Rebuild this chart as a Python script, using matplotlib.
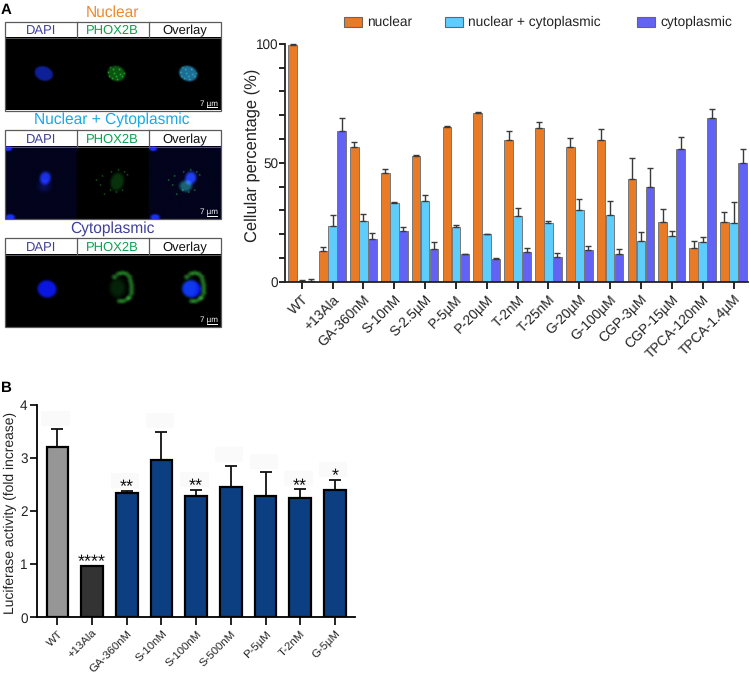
"""Two panel figure: PHOX2B localisation and luciferase activity"""

import numpy as np
import matplotlib

matplotlib.use("Agg")
import matplotlib.pyplot as plt
from matplotlib.patches import Rectangle
from matplotlib.ticker import MultipleLocator

plt.rcParams["font.family"] = ["Liberation Sans", "DejaVu Sans"]
plt.rcParams["text.hinting"] = "no_hinting"

W, H = 750, 677

# panel A
treatments_a = [
    "WT", "+13Ala", "GA-360nM", "S-10nM", "S-2.5µM", "P-5µM", "P-20µM", "T-2nM",
    "T-25nM", "G-20µM", "G-100µM", "CGP-3µM", "CGP-15µM", "TPCA-120nM", "TPCA-1.4µM",
]
nuclear = [99.3, 12.9, 56.4, 45.7, 52.8, 64.8, 70.7, 59.4, 64.7, 56.6, 59.7, 43.0, 25.0, 14.3, 25.0]
nuclear_top = [100, 14.4, 58.5, 47.5, 53.4, 65.5, 71.4, 63.2, 67.1, 60.4, 64.3, 51.8, 30.7, 17.0, 29.1]
both = [0.3, 23.5, 25.6, 33.0, 33.8, 23.1, 19.9, 27.7, 24.8, 30.0, 28.2, 17.0, 19.0, 16.8, 24.6]
both_top = [0.7, 27.9, 28.3, 33.3, 36.3, 24.0, 20.0, 31.1, 25.6, 34.9, 33.9, 20.7, 21.1, 18.9, 33.5]
cyto = [0.4, 63.3, 17.8, 21.1, 13.6, 11.8, 9.5, 12.6, 10.4, 13.2, 11.6, 39.8, 55.6, 68.8, 49.7]
cyto_top = [1.0, 68.9, 20.3, 23.1, 16.5, 11.8, 9.8, 14.1, 11.9, 14.8, 13.9, 47.9, 60.9, 72.7, 55.6]

# panel B
treatments_b = [
    "WT", "+13Ala", "GA-360nM", "S-10nM", "S-100nM", "S-500nM", "P-5µM", "T-2nM", "G-5µM",
]
luciferase = [3.21, 0.97, 2.35, 2.96, 2.28, 2.45, 2.28, 2.24, 2.40]
luciferase_top = [3.55, 0.97, 2.38, 3.50, 2.40, 2.86, 2.73, 2.41, 2.59]
stars = ["", "****", "**", "", "**", "", "", "**", "*"]
bar_colors_b = ["#969696", "#333333"] + ["#0b3f82"] * 7


def px_axes(left, top, right, bottom, **kwargs):
    """Axes placed by pixel box, y measured from the top of the figure"""
    return fig.add_axes(
        [left / W, 1 - bottom / H, (right - left) / W, (bottom - top) / H], **kwargs
    )


def pt(px):
    return px * 0.72


fig = plt.figure(figsize=(W / 100, H / 100), dpi=100)

# ---- micrograph panels, drawn in a pixel coordinate layer
canvas = px_axes(0, 0, W, H)
canvas.set_xlim(0, W)
canvas.set_ylim(H, 0)
canvas.axis("off")

EDGE = "#5a5a5a"
LEFT, RIGHT = 5, 220.5
COLS = [(5, 76.5), (76.5, 148.5), (148.5, 220.5)]
HEAD_H, IMG_H = 16.5, 72.5
SCALE = 3  # raster pixels per figure pixel in the micrographs


def blob(img, top, x, y, rx, ry, rgb, angle=0, soft=0.25):
    """Add a soft edged ellipse to a row image, position in figure pixels"""
    yy, xx = np.mgrid[0:img.shape[0], 0:img.shape[1]]
    xx = xx / SCALE + LEFT - x
    yy = yy / SCALE + top + HEAD_H - y
    a = np.deg2rad(angle)
    u = (xx * np.cos(a) + yy * np.sin(a)) / rx
    v = (-xx * np.sin(a) + yy * np.cos(a)) / ry
    mask = np.clip((1 - np.hypot(u, v)) / soft, 0, 1)
    img += mask[..., None] * np.array(rgb) / 255


def new_row():
    return np.zeros((int(IMG_H * SCALE), int((RIGHT - LEFT) * SCALE), 3))


def panel(title, title_color, title_y, top, img):
    canvas.text(112, title_y, title, color=title_color, fontsize=pt(15.5),
                ha="center", va="center")
    canvas.imshow(np.clip(img, 0, 1), extent=(LEFT, RIGHT, top + HEAD_H + IMG_H, top + HEAD_H),
                  interpolation="bilinear", aspect="auto", zorder=1)
    canvas.add_patch(Rectangle((LEFT, top), RIGHT - LEFT, HEAD_H + IMG_H, fc="none", ec=EDGE, lw=0.9, zorder=3))
    canvas.plot([LEFT, RIGHT], [top + HEAD_H] * 2, color=EDGE, lw=0.7, zorder=3)
    for x in (76.5, 148.5):
        canvas.plot([x, x], [top, top + HEAD_H], color=EDGE, lw=0.9, zorder=3)
    for (a, b), label, color in zip(COLS, ["DAPI", "PHOX2B", "Overlay"],
                                    ["#41409a", "#12a04f", "#111111"]):
        canvas.text((a + b) / 2, top + 12.8, label, color=color, fontsize=pt(13),
                    ha="center", va="baseline")
    # scale bar
    canvas.text(208.5, top + 84.5, "7 µm", color="white", fontsize=pt(8),
                ha="center", va="baseline", zorder=4)
    canvas.plot([207, 217], [top + 85.5] * 2, color="white", lw=0.7, zorder=4)


# first row
top = 21.5
row = new_row()
blob(row, top, 43.5, 74, 10.5, 8, (14, 32, 150), angle=20)
blob(row, top, 116, 74, 10, 8.5, (12, 85, 18), angle=20)
blob(row, top, 187.5, 74, 10.5, 8.5, (30, 110, 150), angle=20)
specks_1 = [(110, 68), (114, 74), (119, 70), (122, 77), (112, 79), (117, 80), (108, 73),
            (120, 75), (113, 70), (116, 77), (124, 74), (109, 77)]
for x, y in specks_1:
    blob(row, top, x, y, 1.2, 1.2, (30, 120, 35), soft=0.8)
    blob(row, top, x + 72, y, 1.2, 1.2, (20, 80, 50), soft=0.8)
panel("Nuclear", "#ef8a2e", 12.7, top, row)

# second row
top = 130
row = new_row()
row[:, : int(71.5 * SCALE)] += np.array((2, 3, 28)) / 255
row[:, int(143.5 * SCALE) :] += np.array((2, 3, 28)) / 255
for x0 in (8, 152.5):
    blob(row, top, x0, 149, 5, 3, (25, 45, 220), soft=0.5)
    blob(row, top, x0 + 2, 217, 6, 4, (25, 45, 220), soft=0.5)
blob(row, top, 44, 186, 9, 8, (6, 12, 60), soft=0.8)
blob(row, top, 45, 178, 7, 8, (25, 45, 200), angle=15, soft=0.5)
blob(row, top, 116.7, 181.7, 8, 11, (8, 50, 12), angle=15, soft=0.4)
blob(row, top, 185, 186, 8, 7, (25, 95, 90), soft=0.5)
blob(row, top, 190, 178, 7, 8, (30, 60, 215), angle=15, soft=0.5)
spots_2 = [(100, 185), (104, 194), (111, 172), (124, 172), (127, 175), (102, 176), (110, 190),
           (122, 190), (118, 170), (116, 192), (96, 180)]
for x, y in spots_2:
    blob(row, top, x, y, 1, 1, (30, 150, 45), soft=0.8)
    blob(row, top, x + 72, y, 1, 1, (35, 180, 55), soft=0.8)
panel("Nuclear + Cytoplasmic", "#19a9e6", 120, top, row)

# third row
top = 238
row = new_row()
blob(row, top, 46.7, 289, 11, 10, (10, 22, 225), angle=10, soft=0.3)
blob(row, top, 117, 288, 10, 12, (5, 35, 8), soft=0.5)
crescent = [(114, 277), (118, 274), (122, 273), (126, 274), (129, 277), (130, 281), (131, 285),
            (131, 289), (131, 293), (129, 297), (127, 299), (123, 301), (119, 301)]
for x, y in crescent:
    blob(row, top, x, y, 4.2, 3.6, (34, 120, 38), soft=1.0)
    blob(row, top, x + 72, y, 4.2, 3.6, (36, 125, 40), soft=1.0)
blob(row, top, 189, 288, 10, 12, (5, 35, 8), soft=0.5)
blob(row, top, 190.7, 289, 11, 10, (10, 22, 230), angle=10, soft=0.3)
panel("Cytoplasmic", "#41409a", 228.7, top, row)
canvas.set_xlim(0, W)
canvas.set_ylim(H, 0)

# ---- panel letters
canvas.text(1, 10, "A", fontsize=pt(15), fontweight="bold", va="center")
canvas.text(1, 388, "B", fontsize=pt(15), fontweight="bold", va="center")

# ---- panel A bars
ax_a = px_axes(285, 43.7, 748, 281.7)
x_a = np.arange(len(treatments_a))
offset = 0.292
bar_w = 0.28
series = [
    (nuclear, nuclear_top, "#e97a26", "nuclear", -offset),
    (both, both_top, "#5fcdfb", "nuclear + cytoplasmic", 0),
    (cyto, cyto_top, "#6262f5", "cytoplasmic", offset),
]
for vals, tops, color, label, shift in series:
    vals = np.array(vals)
    ax_a.bar(x_a + shift, vals, bar_w, color=color, edgecolor="#777777", linewidth=0.7)
    ax_a.errorbar(
        x_a + shift, vals, yerr=[np.zeros(len(vals)), np.array(tops) - vals], fmt="none",
        ecolor="#3a3a3a", elinewidth=1.0, capsize=1.9, capthick=1.0, clip_on=False,
    )
ax_a.set_xlim(-0.54, 14.47)
ax_a.set_ylim(0, 100)
ax_a.set_xticks(x_a, treatments_a, rotation=45, ha="right", rotation_mode="anchor",
                fontsize=pt(13.7), color="#222222")
ax_a.set_yticks([0, 50, 100])
ax_a.yaxis.set_minor_locator(MultipleLocator(10))
ax_a.tick_params(axis="y", which="major", labelsize=pt(13.5), length=4, width=1.2, pad=0.7, labelcolor="#222222")
ax_a.tick_params(axis="y", which="minor", length=4, width=1.2)
ax_a.tick_params(axis="x", length=4.8, width=1.2, pad=3.2)
ax_a.set_ylabel("Cellular percentage (%)", fontsize=pt(16.5), color="#222222")
ax_a.yaxis.set_label_coords(-0.054, 0.53)
for side in ("top", "right"):
    ax_a.spines[side].set_visible(False)
for side in ("left", "bottom"):
    ax_a.spines[side].set_linewidth(1.3)
    ax_a.spines[side].set_color("#222222")

# legend of panel A, placed by hand to keep the wide uneven gaps
for lx, (_, _, color, label, _) in zip((343.5, 444.5, 636.5), series):
    canvas.add_patch(Rectangle((lx, 16.8), 18, 9.8, fc=color, ec="#666666", lw=0.8))
    canvas.text(lx + 24, 26, label, fontsize=pt(13.8), color="#222222", va="baseline")

# ---- panel B bars
ax_b = px_axes(37.3, 405, 355, 617.3)
x_b = np.arange(len(treatments_b))
lum = np.array(luciferase)
ax_b.bar(x_b, lum, 0.62, color=bar_colors_b, edgecolor="black", linewidth=1.6, zorder=3)
ax_b.errorbar(
    x_b, lum, yerr=[np.zeros(len(lum)), np.array(luciferase_top) - lum], fmt="none",
    ecolor="#111111", elinewidth=1.3, capsize=4.4, capthick=1.3, zorder=2,
)
# pale boxes that sit above some of the bars
for i, val in enumerate(luciferase_top):
    if i != 1:
        ax_b.add_patch(Rectangle((i - 0.46, val + 0.06), 0.82, 0.28, fc="#fafafa", ec="none", zorder=1))
for i, star in enumerate(stars):
    if star:
        ax_b.text(i, luciferase_top[i] - 0.1, star, ha="center", va="bottom",
                  fontsize=pt(18), color="#111111", zorder=4)
ax_b.set_xlim(-0.58, 8.58)
ax_b.set_ylim(0, 4)
ax_b.set_xticks(x_b, treatments_b, rotation=45, ha="right", rotation_mode="anchor",
                fontsize=pt(11.4), color="#222222")
ax_b.set_yticks([0, 1, 2, 3, 4])
ax_b.tick_params(axis="y", labelsize=pt(13.5), length=5, width=1.2, pad=2, labelcolor="#222222")
ax_b.tick_params(axis="x", length=5.5, width=1.2, pad=2.5)
ax_b.set_ylabel("Luciferase activity (fold increase)", fontsize=pt(13.9), color="#222222")
ax_b.yaxis.set_label_coords(-0.064, 0.49)
for side in ("top", "right"):
    ax_b.spines[side].set_visible(False)
for side in ("left", "bottom"):
    ax_b.spines[side].set_linewidth(1.3)

canvas.add_patch(Rectangle((251.5, 407.5), 23, 10.5, fc="#35468f", ec="#777777", lw=0.7))
canvas.text(279, 417, "+13Ala treated", fontsize=pt(10.9), color="#222222", va="baseline")

fig.savefig("out.png", dpi=100)
